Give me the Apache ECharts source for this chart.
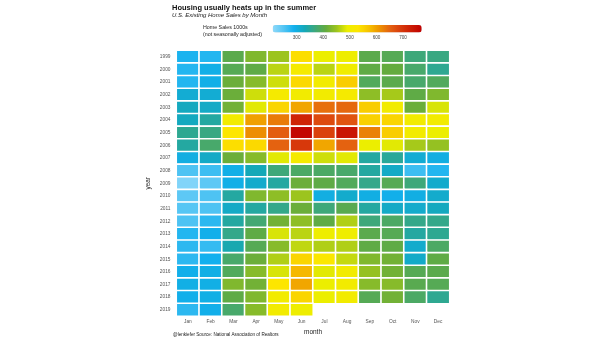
<!DOCTYPE html>
<html>
<head>
<meta charset="utf-8">
<script src="https://cdn.jsdelivr.net/npm/echarts@6/dist/echarts.min.js"></script>
<style>html,body{margin:0;padding:0;background:#fff;}#c{width:605px;height:341px;}</style>
</head>
<body>
<div id="c"></div>
<script>
const months = ['Jan','Feb','Mar','Apr','May','Jun','Jul','Aug','Sep','Oct','Nov','Dec'];
const years = ['1999','2000','2001','2002','2003','2004','2005','2006','2007','2008','2009','2010','2011','2012','2013','2014','2015','2016','2017','2018','2019'];
const s1999 = [285,280,400,430,450,540,490,495,400,395,370,365];
const s2000 = [280,295,395,405,465,510,465,500,405,410,380,355];
const s2001 = [280,295,415,435,475,545,505,560,390,400,380,390];
const s2002 = [310,310,415,475,510,505,505,510,440,455,405,430];
const s2003 = [325,320,420,485,550,595,640,645,560,505,415,480];
const s2004 = [325,345,505,600,630,720,675,665,555,550,505,505];
const s2005 = [355,365,530,615,655,760,685,740,625,560,505,490];
const s2006 = [345,380,540,545,650,695,595,650,490,485,455,445];
const s2007 = [300,320,415,435,485,510,475,485,345,350,310,300];
const s2008 = [255,265,295,330,370,385,385,380,345,320,265,280];
const s2009 = [220,245,295,315,345,415,405,390,360,395,370,315];
const s2010 = [245,255,345,430,440,450,300,315,298,293,298,315];
const s2011 = [250,255,320,345,360,415,370,398,345,320,315,325];
const s2012 = [255,275,345,375,420,440,405,460,370,385,360,360];
const s2013 = [280,293,360,405,480,465,495,497,400,395,345,355];
const s2014 = [275,270,335,395,435,468,460,460,405,405,315,385];
const s2015 = [275,290,380,415,460,550,525,470,430,420,318,405];
const s2016 = [293,297,390,435,480,580,485,505,445,420,395,400];
const s2017 = [297,297,430,420,530,595,490,505,435,435,398,395];
const s2018 = [293,297,405,430,505,550,490,505,395,420,385,355];
const s2019 = [275,293,380,435,505,495];
const salesRows = [s1999,s2000,s2001,s2002,s2003,s2004,s2005,s2006,s2007,s2008,s2009,s2010,s2011,s2012,s2013,s2014,s2015,s2016,s2017,s2018,s2019];
const legendTicks = [300,400,500,600,700];
const scaleMin = 210, scaleMax = 770;

const data = [];
salesRows.forEach((row, yi) => row.forEach((v, mi) => data.push([mi, yi, v])));

const FONT = '"Liberation Sans", Arial, sans-serif';
const chart = echarts.init(document.getElementById('c'), null, {renderer: 'canvas'});
chart.setOption({
  animation: false,
  backgroundColor: '#fff',
  textStyle: {fontFamily: FONT},
  title: [
    {text: 'Housing usually heats up in the summer', left: 172, top: 3.5, padding: 0,
     textStyle: {fontSize: 7.5, fontWeight: 'bold', color: '#111', fontFamily: FONT}},
    {text: 'U.S. Existing Home Sales by Month', left: 172, top: 12.5, padding: 0,
     textStyle: {fontSize: 6, fontStyle: 'italic', fontWeight: 'normal', color: '#222', fontFamily: FONT}},
    {text: 'Home Sales 1000s\n(not seasonally adjusted)', left: 203, top: 24, padding: 0,
     textStyle: {fontSize: 5.3, fontWeight: 'normal', color: '#222', lineHeight: 7, fontFamily: FONT}},
    {text: '@lenkiefer Source: National Association of Realtors', left: 173, top: 332, padding: 0,
     textStyle: {fontSize: 4.6, fontWeight: 'normal', color: '#222', fontFamily: FONT}}
  ],
  grid: [
    {left: 176.5, right: 155.5, top: 50.5, bottom: 24.5},
    {left: 272.7, width: 149, top: 25, height: 7.5}
  ],
  xAxis: [
    {type: 'category', data: months, gridIndex: 0,
     name: 'month', nameLocation: 'middle', nameGap: 8,
     nameTextStyle: {fontSize: 6.5, color: '#222', fontFamily: FONT},
     axisLine: {show: false}, axisTick: {show: false}, splitLine: {show: false},
     axisLabel: {fontSize: 4.8, color: '#555', margin: 3, fontFamily: FONT}},
    {type: 'value', gridIndex: 1, min: scaleMin, max: scaleMax,
     axisLine: {show: false}, axisTick: {show: false}, splitLine: {show: false},
     axisLabel: {customValues: legendTicks, fontSize: 4.6, color: '#444', margin: 3, fontFamily: FONT}}
  ],
  yAxis: [
    {type: 'category', data: years, inverse: true, gridIndex: 0,
     name: 'year', nameLocation: 'middle', nameGap: 25, nameRotate: 90,
     nameTextStyle: {fontSize: 6.5, color: '#222', fontFamily: FONT},
     axisLine: {show: false}, axisTick: {show: false}, splitLine: {show: false},
     axisLabel: {fontSize: 4.8, color: '#555', margin: 6, fontFamily: FONT}},
    {type: 'value', gridIndex: 1, show: false, min: 0, max: 1}
  ],
  visualMap: {
    type: 'continuous', min: scaleMin, max: scaleMax, orient: 'horizontal',
    left: 272.7, top: 25, itemWidth: 7.5, itemHeight: 149, padding: 0,
    calculable: false, text: null, showLabel: false, hoverLink: false,
    seriesIndex: 0,
    inRange: {color: ['#8fd9fa','#56c6f4','#12b0ee','#14a8b8','#3ea87a','#64ab3e','#9cc41e','#ecee00','#fde600','#f7c400','#ee9400','#e46210','#d83c0c','#cc1c04','#c00000']}
  },
  series: [{
    type: 'heatmap', xAxisIndex: 0, yAxisIndex: 0, data: data,
    itemStyle: {borderColor: '#ffffff', borderWidth: 1.6},
    emphasis: {disabled: true}
  }]
});
</script>
</body>
</html>
